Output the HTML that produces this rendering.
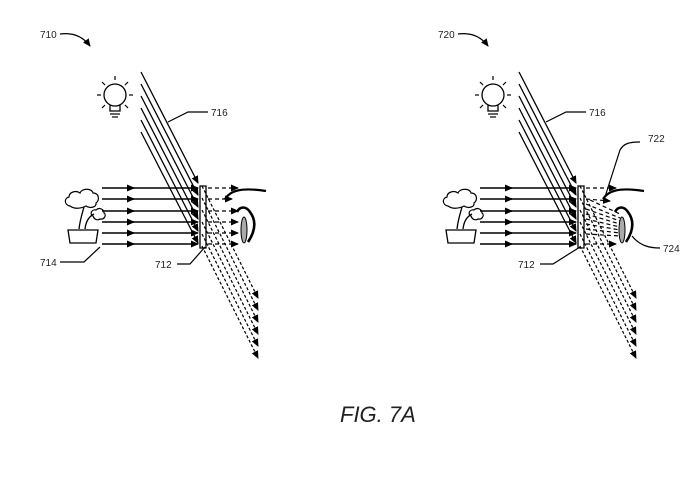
<!DOCTYPE html>
<html><head><style>
html,body{margin:0;padding:0;background:#fff;}
svg{display:block;}
text{font-family:"Liberation Sans",sans-serif;fill:#222;}
</style></head><body>
<svg width="700" height="480" viewBox="0 0 700 480" xmlns="http://www.w3.org/2000/svg">
<defs>
<marker id="ah" markerWidth="8" markerHeight="8" refX="7" refY="4" orient="auto" markerUnits="userSpaceOnUse">
<path d="M0,0.5 L8,4 L0,7.5 Z" fill="#000"/></marker>
<g id="panel" stroke="#000" fill="none">
 <!-- bulb -->
 <circle cx="115" cy="95" r="11" stroke-width="1.3"/>
 <path d="M110,105 L110,111 L120,111 L120,105" stroke-width="1.3"/>
 <line x1="110" y1="114" x2="120" y2="114" stroke-width="1.2"/>
 <line x1="112" y1="117" x2="118" y2="117" stroke-width="1.2"/>
 <g stroke-width="1.2">
  <line x1="115" y1="76" x2="115" y2="80"/><line x1="97" y1="95" x2="101" y2="95"/><line x1="129" y1="95" x2="133" y2="95"/>
  <line x1="102" y1="82" x2="105" y2="85"/><line x1="128" y1="82" x2="125" y2="85"/>
  <line x1="102" y1="108" x2="105" y2="105"/><line x1="128" y1="108" x2="125" y2="105"/>
 </g>
 <!-- plant -->
 <path d="M68,230 L98,230 L96,243 L70,243 Z" stroke-width="1.3"/>
 <path d="M79,229 C80,220 82,214 84,207 M85,229 C86,220 90,216 94,214" stroke-width="1.3"/>
 <path d="M70,206 C64,205 64,198 69,197 C69,192 76,190 80,193 C82,188 92,188 93,193 C99,193 100,200 96,203 C97,207 90,209 86,206 C80,209 74,209 70,206 Z" stroke-width="1.2"/>
 <path d="M93,216 C89,214 92,209 96,210 C99,207 104,209 104,213 C107,215 104,220 100,219 C97,221 94,219 93,216 Z" stroke-width="1.2"/>
 <!-- slanted light rays -->
 <g stroke-width="1.3">
  <line x1="141" y1="72" x2="198" y2="183" marker-end="url(#ah)"/>
  <line x1="141" y1="84" x2="198" y2="195" marker-end="url(#ah)"/>
  <line x1="141" y1="96" x2="198" y2="207" marker-end="url(#ah)"/>
  <line x1="141" y1="108" x2="198" y2="219" marker-end="url(#ah)"/>
  <line x1="141" y1="120" x2="198" y2="231" marker-end="url(#ah)"/>
  <line x1="141" y1="132" x2="198" y2="243" marker-end="url(#ah)"/>
 </g>
 <!-- reflected dashed rays -->
 <g stroke-width="1.2" stroke-dasharray="3,2">
  <line x1="202" y1="186" x2="258" y2="298" marker-end="url(#ah)"/>
  <line x1="202" y1="198" x2="258" y2="310" marker-end="url(#ah)"/>
  <line x1="202" y1="210" x2="258" y2="322" marker-end="url(#ah)"/>
  <line x1="202" y1="222" x2="258" y2="334" marker-end="url(#ah)"/>
  <line x1="202" y1="234" x2="258" y2="346" marker-end="url(#ah)"/>
  <line x1="202" y1="246" x2="258" y2="358" marker-end="url(#ah)"/>
 </g>
 <!-- horizontal rays -->
 <g stroke-width="1.4">
  <line x1="102" y1="188" x2="134" y2="188" marker-end="url(#ah)"/><line x1="130" y1="188" x2="198" y2="188" marker-end="url(#ah)"/>
  <line x1="102" y1="199" x2="134" y2="199" marker-end="url(#ah)"/><line x1="130" y1="199" x2="198" y2="199" marker-end="url(#ah)"/>
  <line x1="102" y1="211" x2="134" y2="211" marker-end="url(#ah)"/><line x1="130" y1="211" x2="198" y2="211" marker-end="url(#ah)"/>
  <line x1="102" y1="222" x2="134" y2="222" marker-end="url(#ah)"/><line x1="130" y1="222" x2="198" y2="222" marker-end="url(#ah)"/>
  <line x1="102" y1="233" x2="134" y2="233" marker-end="url(#ah)"/><line x1="130" y1="233" x2="198" y2="233" marker-end="url(#ah)"/>
  <line x1="102" y1="244" x2="134" y2="244" marker-end="url(#ah)"/><line x1="130" y1="244" x2="198" y2="244" marker-end="url(#ah)"/>
 </g>
 <!-- glass -->
 <path d="M200,186 L206,186 L206,248 L200,248 Z" stroke-width="1.3"/>
</g>
<g id="eye" stroke="#000" fill="none">
 <path d="M225,199 C230,191 240,187 266,191" stroke-width="2.2"/>
 <path d="M237,212 C240,206 246,206 250,212 C256,220 256,230 248,242" stroke-width="2.6"/>
 <ellipse cx="244" cy="230" rx="3" ry="13" stroke-width="1" fill="#aaa"/>
</g>
<g id="fwd" stroke="#000" fill="none" stroke-width="1.2" stroke-dasharray="4,3">
 <line x1="208" y1="188" x2="238" y2="188" marker-end="url(#ah)"/>
 <line x1="208" y1="199" x2="232" y2="199" marker-end="url(#ah)"/>
 <line x1="208" y1="211" x2="238" y2="211" marker-end="url(#ah)"/>
 <line x1="208" y1="222" x2="238" y2="222" marker-end="url(#ah)"/>
 <line x1="208" y1="233" x2="238" y2="233" marker-end="url(#ah)"/>
 <line x1="208" y1="244" x2="238" y2="244" marker-end="url(#ah)"/>
</g>
</defs>

<use href="#panel"/>
<use href="#fwd"/>
<use href="#eye"/>
<text x="40" y="38" font-size="10">710</text>
<path d="M60,34 C75,32 84,38 90,46" stroke="#000" fill="none" stroke-width="1.3" marker-end="url(#ah)"/>
<path d="M168,122 L188,112 L208,112" stroke="#000" fill="none" stroke-width="1.2"/>
<text x="211" y="116" font-size="10">716</text>
<text x="40" y="266" font-size="10">714</text>
<path d="M60,262 L84,262 L100,247" stroke="#000" fill="none" stroke-width="1.2"/>
<text x="155" y="268" font-size="10">712</text>
<path d="M177,264 L190,264 L205,247" stroke="#000" fill="none" stroke-width="1.2"/>

<g transform="translate(378,0)">
<use href="#panel"/>
<use href="#eye"/>
<g stroke="#000" fill="none" stroke-width="1.2" stroke-dasharray="4,3">
 <line x1="208" y1="188" x2="238" y2="188" marker-end="url(#ah)"/>
 <line x1="208" y1="244" x2="238" y2="244" marker-end="url(#ah)"/>
 <line x1="208" y1="199" x2="232" y2="201" marker-end="url(#ah)"/>
 <line x1="208" y1="204" x2="242" y2="218"/>
 <line x1="208" y1="209" x2="242" y2="221"/>
 <line x1="208" y1="214" x2="242" y2="224"/>
 <line x1="208" y1="219" x2="242" y2="227"/>
 <line x1="208" y1="224" x2="242" y2="230"/>
 <line x1="208" y1="229" x2="242" y2="233"/>
 <line x1="208" y1="234" x2="242" y2="236"/>
 <line x1="212" y1="200" x2="242" y2="214"/>
</g>
</g>
<text x="438" y="38" font-size="10">720</text>
<path d="M458,34 C473,32 482,38 488,46" stroke="#000" fill="none" stroke-width="1.3" marker-end="url(#ah)"/>
<path d="M546,122 L566,112 L586,112" stroke="#000" fill="none" stroke-width="1.2"/>
<text x="589" y="116" font-size="10">716</text>
<text x="518" y="268" font-size="10">712</text>
<path d="M540,264 L553,264 L580,247" stroke="#000" fill="none" stroke-width="1.2"/>
<text x="648" y="142" font-size="10">722</text>
<path d="M604,200 L620,150 C624,143 630,142 640,142" stroke="#000" fill="none" stroke-width="1.2"/>
<text x="663" y="252" font-size="10">724</text>
<path d="M632,236 C640,246 650,248 660,248" stroke="#000" fill="none" stroke-width="1.2"/>

<text x="340" y="422" font-size="22" font-style="italic" fill="#333">FIG. 7A</text>
</svg>
</body></html>
